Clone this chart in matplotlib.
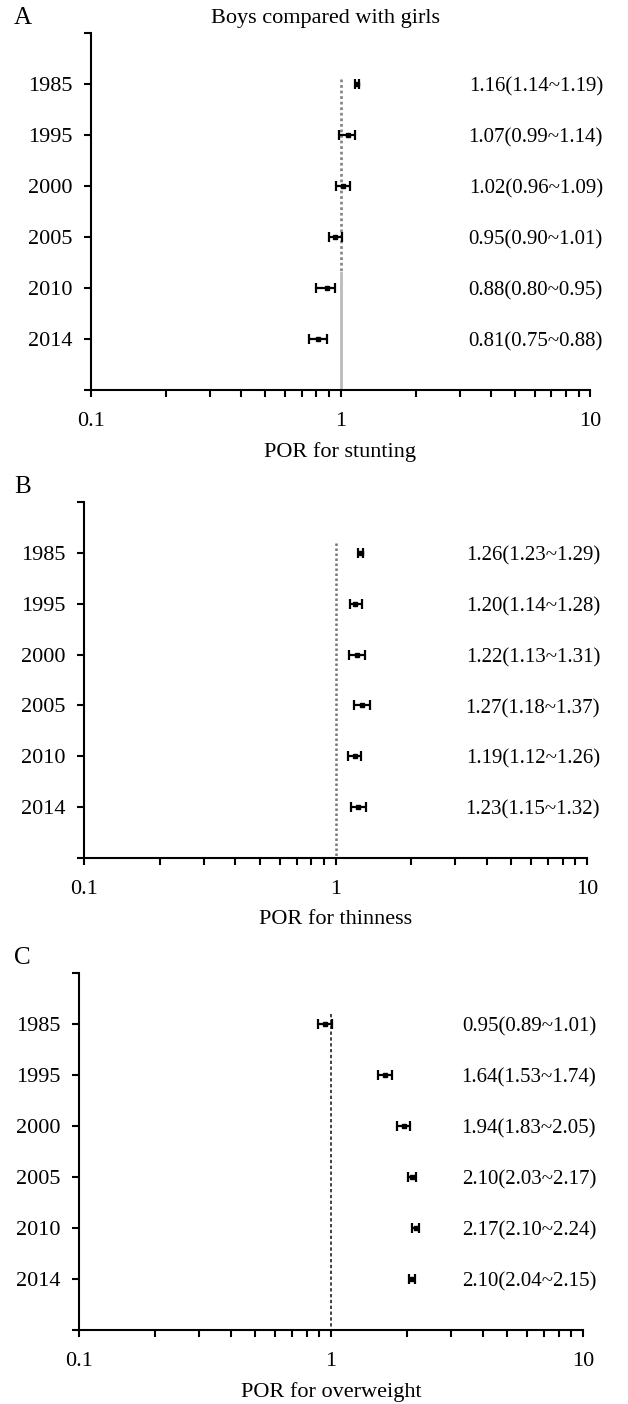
import matplotlib
matplotlib.use("Agg")
import matplotlib.pyplot as plt
import numpy as np

plt.rcParams['font.family'] = ['Liberation Serif', 'DejaVu Serif']

years = ['1985', '1995', '2000', '2005', '2010', '2014']

stunt_por = [1.16, 1.07, 1.02, 0.95, 0.88, 0.81]
stunt_lo = [1.14, 0.99, 0.96, 0.90, 0.80, 0.75]
stunt_hi = [1.19, 1.14, 1.09, 1.01, 0.95, 0.88]

thin_por = [1.26, 1.20, 1.22, 1.27, 1.19, 1.23]
thin_lo = [1.23, 1.14, 1.13, 1.18, 1.12, 1.15]
thin_hi = [1.29, 1.28, 1.31, 1.37, 1.26, 1.32]

over_por = [0.95, 1.64, 1.94, 2.10, 2.17, 2.10]
over_lo = [0.89, 1.53, 1.83, 2.03, 2.10, 2.04]
over_hi = [1.01, 1.74, 2.05, 2.17, 2.24, 2.15]

panels = [
    ('A', 'POR for stunting', stunt_por, stunt_lo, stunt_hi, [91, 33, 590, 390]),
    ('B', 'POR for thinness', thin_por, thin_lo, thin_hi, [84, 502, 587, 858]),
    ('C', 'POR for overweight', over_por, over_lo, over_hi, [79, 973, 583, 1330]),
]

W, H = 628, 1404
fig = plt.figure(figsize=(W / 100, H / 100), dpi=100)

fs = 16
for letter, xlab, por, lo, hi, box in panels:
    x0, y0, x1, y1 = box
    ax = fig.add_axes([x0 / W, 1 - y1 / H, (x1 - x0) / W, (y1 - y0) / H])
    ypos = np.arange(len(years), 0, -1)
    por = np.array(por)
    err = [por - np.array(lo), np.array(hi) - por]
    ax.errorbar(por, ypos, xerr=err, fmt='s', color='black', ms=3.5,
                capsize=3.5, elinewidth=1.6, capthick=1.6, zorder=3)
    if letter == 'A':
        ax.plot([1, 1], [6.1, 2.3], color='#888888', lw=2, ls=(0, (1, 1)), zorder=1)
        ax.plot([1, 1], [2.3, 0], color='#bbbbbb', lw=2, zorder=1)
    elif letter == 'B':
        ax.plot([1, 1], [6.2, 0], color='#777777', lw=1.8, ls=(0, (1, 1)), zorder=1)
    else:
        ax.plot([1, 1], [6.2, 0], color='#222222', lw=1.2, ls=(0, (2, 1.5)), zorder=1)
    for yy, p, l, h in zip(ypos, por, lo, hi):
        ax.text(1.026, yy - 0.06, '%.2f(%.2f~%.2f)' % (p, l, h), transform=ax.get_yaxis_transform(),
                ha='right', va='center', fontsize=15)
    ax.set_xscale('log')
    ax.set_xlim(0.1, 10)
    ax.set_ylim(0, 7)
    ax.set_yticks(range(0, 8))
    ax.set_yticklabels([''] + years[::-1] + [''])
    ax.set_xticks([0.1, 1, 10])
    ax.set_xticklabels(['0.1', '1', '10'])
    ax.spines['top'].set_visible(False)
    ax.spines['right'].set_visible(False)
    ax.spines['left'].set_linewidth(1.5)
    ax.spines['bottom'].set_linewidth(1.5)
    ax.tick_params(axis='both', which='major', direction='out', length=5, width=1.5, labelsize=fs)
    ax.tick_params(axis='x', which='minor', direction='out', length=5, width=1.5)
    ax.tick_params(axis='x', pad=11)
    ax.tick_params(axis='y', pad=8)
    ax.set_xlabel(xlab, fontsize=fs, labelpad=8)
    fig.text(14 / W, 1 - (y0 - 15) / H, letter, fontsize=18, ha='left', va='center')

fig.text(325 / W, 1 - 18 / H, 'Boys compared with girls', fontsize=fs, ha='center', va='center')

fig.savefig('out.png', dpi=100)
